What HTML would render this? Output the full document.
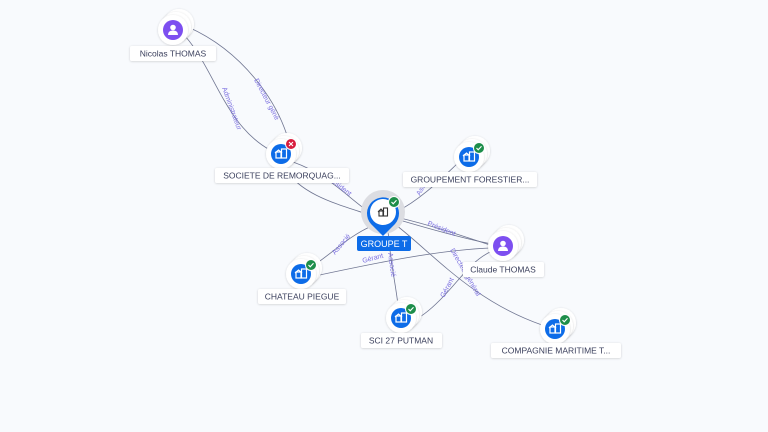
<!DOCTYPE html>
<html><head><meta charset="utf-8"><style>
html,body{margin:0;padding:0;background:#f8fafd;}
svg{display:block;font-family:"Liberation Sans",sans-serif;}
.el{font-size:7px;fill:#7b6fe0;}
.lb{font-size:8.5px;fill:#3a3f5c;}
</style></head><body>
<svg width="768" height="432" viewBox="0 0 768 432" xmlns="http://www.w3.org/2000/svg">
<defs>
<filter id="sh" x="-50%" y="-50%" width="200%" height="200%"><feDropShadow dx="0" dy="0.5" stdDeviation="1" flood-color="#000" flood-opacity="0.18"/></filter>
<g id="bld"><rect x="-5" y="-2" width="5" height="6" fill="none" stroke="#fff" stroke-width="1.2"/><path d="M-6,-1 L-2.5,-4 L1,-1" fill="none" stroke="#fff" stroke-width="1.2"/><rect x="0.5" y="-5" width="5" height="9" fill="none" stroke="#fff" stroke-width="1.2"/></g>
<g id="per"><circle cx="0" cy="-2.5" r="2.8" fill="#fff"/><path d="M-5,5 Q-5,0.5 0,0.5 Q5,0.5 5,5 Z" fill="#fff"/></g>
<g id="stk"><circle cx="6" cy="-6" r="15" fill="#fff" filter="url(#sh)"/><circle cx="3" cy="-3" r="15" fill="#fff" filter="url(#sh)"/><circle cx="0" cy="0" r="15" fill="#fff" filter="url(#sh)"/></g>
<g id="ok"><circle r="5.5" fill="#1e8e4a" stroke="#fff" stroke-width="1"/><path d="M-2.5,0 L-0.8,1.8 L2.5,-1.8" fill="none" stroke="#fff" stroke-width="1.1"/></g>
</defs>
<g fill="none" stroke="#6f7591" stroke-width="0.8">
<path d="M188,27 C240,50 280,100 291,150"/>
<path d="M185,36 C215,70 225,125 270,150"/>
<path d="M293,162 C330,175 350,200 372,214"/>
<path d="M285,168 C300,195 340,205 370,215"/>
<path d="M396,212 C420,200 440,180 458,163"/>
<path d="M396,217 C430,225 460,235 490,245"/>
<path d="M396,219 C440,232 470,240 492,244"/>
<path d="M315,276 C380,262 440,250 490,248"/>
<path d="M372,226 C350,235 330,255 310,268"/>
<path d="M388,230 C390,260 395,280 398,305"/>
<path d="M490,252 C470,262 460,280 440,300 C430,310 420,318 413,320"/>
<path d="M392,222 C430,250 470,300 542,325"/>
</g>
<g class="el">
<text transform="translate(222,88) rotate(70)">Administrateur</text>
<text transform="translate(254,80) rotate(62)">Directeur géné</text>
<text transform="translate(326,178) rotate(38)">Président</text>
<text transform="translate(420,196) rotate(-62)">Associé</text>
<text transform="translate(427,225) rotate(22)">Président</text>
<text transform="translate(450,250) rotate(60)">Directeur général</text>
<text transform="translate(363,263) rotate(-15)">Gérant</text>
<text transform="translate(335,255) rotate(-50)">Associé</text>
<text transform="translate(388,253) rotate(82)">Associé</text>
<text transform="translate(444,298) rotate(-62)">Gérant</text>
</g>
<!-- Nicolas -->
<g transform="translate(173,30)"><use href="#stk"/><circle r="10" fill="#7d4ff0"/><use href="#per"/></g>
<rect x="130" y="46" width="86" height="15" rx="2" fill="#fff" filter="url(#sh)"/><text class="lb" x="173" y="56.5" text-anchor="middle">Nicolas THOMAS</text>
<!-- Societe -->
<g transform="translate(281,154)"><use href="#stk"/><circle r="10" fill="#0d6ce8"/><use href="#bld"/><g transform="translate(10,-10)"><circle r="5.5" fill="#d81d3d" stroke="#fff" stroke-width="1"/><path d="M-2,-2 L2,2 M2,-2 L-2,2" stroke="#fff" stroke-width="1.1"/></g></g>
<rect x="215" y="168" width="134" height="15" rx="2" fill="#fff" filter="url(#sh)"/><text class="lb" x="282" y="178.5" text-anchor="middle">SOCIETE DE REMORQUAG...</text>
<!-- Groupement -->
<g transform="translate(469,157)"><use href="#stk"/><circle r="10" fill="#0d6ce8"/><use href="#bld"/><use href="#ok" x="10" y="-9"/></g>
<rect x="403" y="172" width="134" height="15" rx="2" fill="#fff" filter="url(#sh)"/><text class="lb" x="470" y="182.5" text-anchor="middle">GROUPEMENT FORESTIER...</text>
<!-- Claude -->
<g transform="translate(503,246)"><use href="#stk"/><circle r="10" fill="#7d4ff0"/><use href="#per"/></g>
<rect x="463" y="262" width="81" height="15" rx="2" fill="#fff" filter="url(#sh)"/><text class="lb" x="503" y="272.5" text-anchor="middle">Claude THOMAS</text>
<!-- Chateau -->
<g transform="translate(301,274)"><use href="#stk"/><circle r="10" fill="#0d6ce8"/><use href="#bld"/><use href="#ok" x="10" y="-9"/></g>
<rect x="258" y="289" width="88" height="15" rx="2" fill="#fff" filter="url(#sh)"/><text class="lb" x="302" y="299.5" text-anchor="middle">CHATEAU PIEGUE</text>
<!-- SCI -->
<g transform="translate(401,318)"><use href="#stk"/><circle r="10" fill="#0d6ce8"/><use href="#bld"/><use href="#ok" x="10" y="-9"/></g>
<rect x="361" y="333" width="81" height="15" rx="2" fill="#fff" filter="url(#sh)"/><text class="lb" x="401" y="343.5" text-anchor="middle">SCI 27 PUTMAN</text>
<!-- Compagnie -->
<g transform="translate(555,329)"><use href="#stk"/><circle r="10" fill="#0d6ce8"/><use href="#bld"/><use href="#ok" x="10" y="-9"/></g>
<rect x="491" y="343" width="130" height="15" rx="2" fill="#fff" filter="url(#sh)"/><text class="lb" x="556" y="353.5" text-anchor="middle">COMPAGNIE MARITIME T...</text>
<!-- Groupe T -->
<circle cx="383" cy="212" r="22" fill="#dcdde2"/>
<path d="M383,236 L371,224 A16,16 0 1 1 395,224 Z" fill="#0d6ce8"/>
<circle cx="383" cy="212" r="13" fill="#fff"/>
<g transform="translate(383,212)"><rect x="-4" y="-1" width="4" height="5" fill="none" stroke="#333" stroke-width="1.1"/><path d="M-5,0 L-2,-3 L1,0" fill="none" stroke="#333" stroke-width="1.1"/><rect x="0.5" y="-4" width="4" height="8" fill="none" stroke="#333" stroke-width="1.1"/></g>
<use href="#ok" x="394" y="202"/>
<rect x="357" y="236" width="54" height="15" rx="2" fill="#0d6ce8"/><text x="384" y="247" text-anchor="middle" font-size="9" fill="#fff">GROUPE T</text>
</svg>
</body></html>
